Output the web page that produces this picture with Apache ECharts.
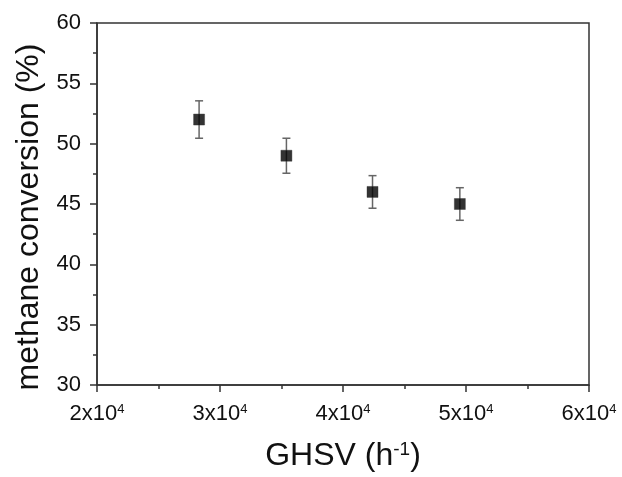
<!DOCTYPE html>
<html>
<head>
<meta charset="utf-8">
<script src="https://cdn.jsdelivr.net/npm/echarts@6/dist/echarts.min.js"></script>
<style>
html,body{margin:0;padding:0;background:#fff;}
#chart{width:622px;height:477px;}
</style>
</head>
<body>
<div id="chart"></div>
<script>
// Data
var ghsv = [28300, 35400, 42400, 49500];
var conversion = [52.0, 49.0, 46.0, 45.0];
var errorBar = [1.55, 1.45, 1.35, 1.35];
var xTicks = [20000, 30000, 40000, 50000, 60000];
var yTicks = [30, 35, 40, 45, 50, 55, 60];

var FONT = '"Liberation Sans", Arial, sans-serif';
var axisColor = '#333';

var points = ghsv.map(function (x, i) { return [x, conversion[i]]; });
var errData = ghsv.map(function (x, i) { return [x, conversion[i] - errorBar[i], conversion[i] + errorBar[i]]; });

var chart = echarts.init(document.getElementById('chart'), null, {renderer: 'canvas'});
chart.setOption({
  animation: false,
  backgroundColor: '#fff',
  grid: {left: 97, right: 33, top: 23, bottom: 91, show: true, borderColor: axisColor, borderWidth: 1.5, backgroundColor: 'transparent'},
  xAxis: {
    type: 'value',
    min: xTicks[0], max: xTicks[xTicks.length - 1], interval: 10000,
    name: 'GHSV (h{sup|-1})',
    nameLocation: 'middle',
    nameGap: 55,
    nameTextStyle: {
      fontFamily: FONT, fontSize: 32, color: '#111',
      rich: {sup: {fontFamily: FONT, fontSize: 19, color: '#111', verticalAlign: 'top'}}
    },
    axisLine: {show: true, onZero: false, lineStyle: {color: axisColor, width: 1.5}},
    axisTick: {show: true, inside: false, length: 7, lineStyle: {color: axisColor, width: 1.5}},
    minorTick: {show: true, splitNumber: 2, length: 4, lineStyle: {color: axisColor, width: 1.5}},
    splitLine: {show: false},
    axisLabel: {
      fontFamily: FONT, fontSize: 22, color: '#111', margin: 18,
      formatter: function (v) { return (v / 10000) + 'x10{sup|4}'; },
      rich: {sup: {fontFamily: FONT, fontSize: 13, color: '#111', verticalAlign: 'top'}}
    }
  },
  yAxis: {
    type: 'value',
    min: yTicks[0], max: yTicks[yTicks.length - 1], interval: 5,
    name: 'methane conversion (%)',
    nameLocation: 'middle',
    nameGap: 51,
    nameRotate: 90,
    nameTextStyle: {fontFamily: FONT, fontSize: 32, color: '#111', padding: [0, 26, 0, 0]},
    axisLine: {show: true, onZero: false, lineStyle: {color: axisColor, width: 1.5}},
    axisTick: {show: true, inside: false, length: 7, lineStyle: {color: axisColor, width: 1.5}},
    minorTick: {show: true, splitNumber: 2, length: 4, lineStyle: {color: axisColor, width: 1.5}},
    splitLine: {show: false},
    axisLabel: {fontFamily: FONT, fontSize: 22, color: '#111', margin: 16}
  },
  series: [
    {
      type: 'custom',
      data: errData,
      z: 2,
      renderItem: function (params, api) {
        var x = api.value(0);
        var lo = api.coord([x, api.value(1)]);
        var hi = api.coord([x, api.value(2)]);
        var hw = 4;
        var style = {stroke: '#666', lineWidth: 1.5, fill: null};
        return {
          type: 'group',
          children: [
            {type: 'line', shape: {x1: lo[0], y1: lo[1], x2: hi[0], y2: hi[1]}, style: style},
            {type: 'line', shape: {x1: lo[0] - hw, y1: lo[1], x2: lo[0] + hw, y2: lo[1]}, style: style},
            {type: 'line', shape: {x1: hi[0] - hw, y1: hi[1], x2: hi[0] + hw, y2: hi[1]}, style: style}
          ]
        };
      }
    },
    {
      type: 'scatter',
      data: points,
      symbol: 'rect',
      symbolSize: 11,
      z: 3,
      itemStyle: {color: '#000', borderColor: '#333', borderWidth: 0.5}
    }
  ]
});
</script>
</body>
</html>
